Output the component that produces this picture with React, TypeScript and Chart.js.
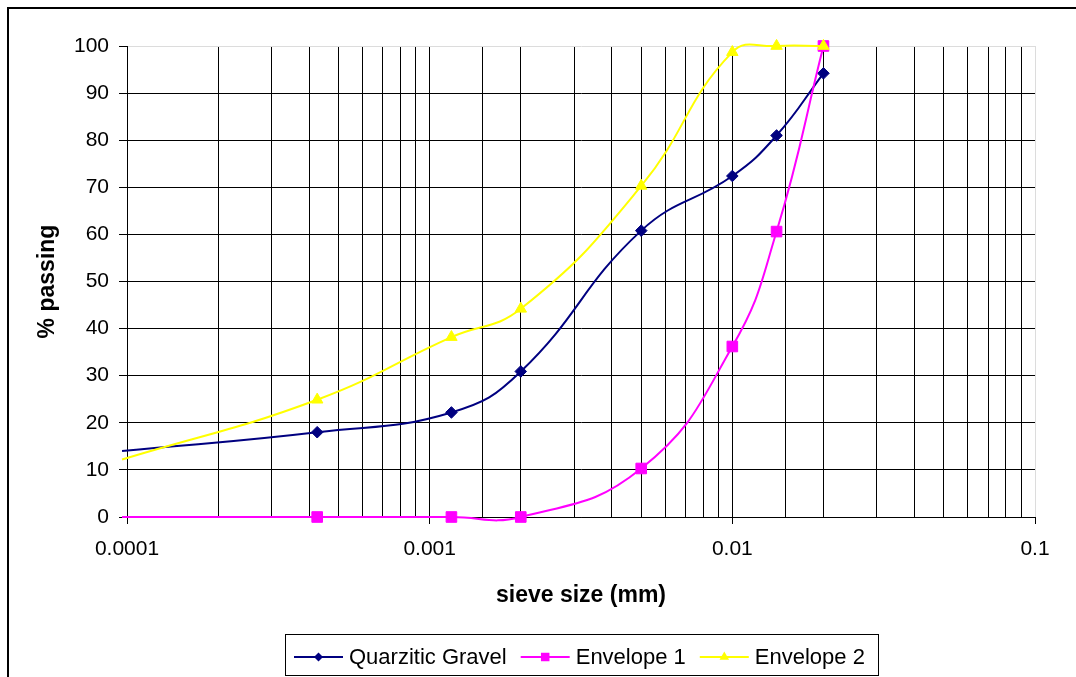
import React, { useEffect, useRef } from 'react';
import { Chart, registerables } from 'chart.js';

Chart.register(...registerables);

// ---- data ----
const sieveSizes = [0.0000963, 0.000425, 0.00118, 0.002, 0.005, 0.01, 0.014, 0.02];
const quarziticGravel = [14, 18, 22.2, 30.9, 60.8, 72.4, 81, 94.2];
const envelope1 = [0, 0, 0, 0, 10.3, 36.2, 60.6, 100];
const envelope2 = [12.2, 24.9, 38.2, 44.2, 70.3, 98.7, 100, 100];
const seriesNames = ['Quarzitic Gravel', 'Envelope 1', 'Envelope 2'];
const xDecadeLabels = ['0.0001', '0.001', '0.01', '0.1'];
const xTitle = 'sieve size (mm)';
const yTitle = '% passing';

const FONT = '"Liberation Sans", Arial, Helvetica, sans-serif';

const isDecade = (v: number) => Math.abs(Math.log10(v) - Math.round(Math.log10(v))) < 1e-6;

function toPoints(values: number[]) {
  return sieveSizes.map((x, i) => ({ x, y: values[i] }));
}

function drawMarker(ctx: CanvasRenderingContext2D, style: string, x: number, y: number, r: number) {
  ctx.beginPath();
  if (style === 'rectRot') {
    ctx.moveTo(x - r, y);
    ctx.lineTo(x, y - r);
    ctx.lineTo(x + r, y);
    ctx.lineTo(x, y + r);
  } else if (style === 'rect') {
    const s = r * Math.SQRT1_2;
    ctx.rect(x - s, y - s, 2 * s, 2 * s);
  } else {
    ctx.moveTo(x, y - r);
    ctx.lineTo(x + r * Math.sin((2 * Math.PI) / 3), y - r * Math.cos((2 * Math.PI) / 3));
    ctx.lineTo(x + r * Math.sin((4 * Math.PI) / 3), y - r * Math.cos((4 * Math.PI) / 3));
  }
  ctx.closePath();
  ctx.fill();
}

const frameAndLegend = {
  id: 'frameAndLegend',
  afterDraw(chart: any) {
    const ctx: CanvasRenderingContext2D = chart.ctx;
    ctx.save();
    // outer chart border (top & left visible)
    ctx.fillStyle = '#000';
    ctx.fillRect(7, 7, 1069, 2);
    ctx.fillRect(7, 7, 2, 670);

    // legend box
    ctx.strokeStyle = '#000';
    ctx.lineWidth = 1;
    ctx.strokeRect(285.5, 634.5, 593, 41);

    ctx.font = `22px ${FONT}`;
    ctx.textBaseline = 'alphabetic';
    ctx.textAlign = 'left';
    const lineY = 657;
    let x = 294;
    const sizes: Record<string, number> = { rectRot: 4.5, rect: 6, triangle: 5.5 };
    chart.data.datasets.forEach((ds: any) => {
      ctx.strokeStyle = ds.borderColor;
      ctx.lineWidth = 2;
      ctx.beginPath();
      ctx.moveTo(x, lineY);
      ctx.lineTo(x + 49, lineY);
      ctx.stroke();
      ctx.fillStyle = ds.backgroundColor;
      drawMarker(ctx, ds.pointStyle, x + 24.5, lineY, sizes[ds.pointStyle]);
      ctx.fillStyle = '#000';
      ctx.fillText(ds.label, x + 55, 664);
      x += 55 + ctx.measureText(ds.label).width + 14;
    });
    ctx.restore();
  },
};

export default function App() {
  const ref = useRef<HTMLCanvasElement | null>(null);

  useEffect(() => {
    document.body.style.margin = '0';
    if (!ref.current) return;
    Chart.defaults.font.family = FONT;
    Chart.defaults.color = '#000';

    const mk = (label: string, values: number[], color: string, style: string, radius: number, order: number) => ({
      label,
      data: toPoints(values),
      borderColor: color,
      backgroundColor: color,
      pointBackgroundColor: color,
      pointBorderColor: color,
      pointBorderWidth: 1,
      pointStyle: style,
      pointRadius: values.map((_, i) => (i === 0 ? 0 : radius)),
      borderWidth: 2,
      tension: 0.45,
      cubicInterpolationMode: 'default',
      capBezierPoints: false,
      clip: false,
      order,
    });

    const chart = new Chart(ref.current, {
      type: 'line',
      data: {
        datasets: [
          mk(seriesNames[0], quarziticGravel, '#000080', 'rectRot', 5.8, 3),
          mk(seriesNames[1], envelope1, '#FF00FF', 'rect', 7.5, 2),
          mk(seriesNames[2], envelope2, '#FFFF00', 'triangle', 6.6, 1),
        ] as any,
      },
      options: {
        animation: false,
        responsive: false,
        devicePixelRatio: 1,
        layout: { padding: { left: 0, right: 41, top: 46, bottom: 0 } },
        plugins: {
          legend: { display: false },
          tooltip: { enabled: false },
        },
        scales: {
          x: {
            type: 'logarithmic',
            position: 'bottom',
            min: 0.0001,
            max: 0.1,
            afterFit: (s: any) => {
              s.height = 160;
            },
            border: { color: '#000', width: 1 },
            grid: {
              lineWidth: 1,
              color: (c: any) => (c.tick && Math.abs(c.tick.value - 0.1) < 1e-9 ? '#dcdcdc' : '#000'),
              tickColor: (c: any) => (c.tick && isDecade(c.tick.value) ? '#000' : 'rgba(0,0,0,0)'),
              tickLength: 7,
            },
            ticks: {
              autoSkip: false,
              maxRotation: 0,
              padding: 13,
              font: { size: 21 },
              color: '#000',
              callback: (v: any) => {
                const n = Number(v);
                if (!isDecade(n)) return '';
                const idx = Math.round(Math.log10(n)) + 4;
                return xDecadeLabels[idx] ?? '';
              },
            },
            title: {
              display: true,
              text: xTitle,
              font: { size: 23, weight: 'bold' },
              color: '#000',
              padding: { top: 0, bottom: 68 },
            },
          },
          y: {
            type: 'linear',
            min: 0,
            max: 100,
            afterFit: (s: any) => {
              s.width = 127;
            },
            border: { color: '#000', width: 1 },
            grid: {
              lineWidth: 1,
              color: (c: any) => (c.tick && c.tick.value === 100 ? '#dcdcdc' : '#000'),
              tickColor: '#000',
              tickLength: 8,
            },
            ticks: {
              stepSize: 10,
              padding: 10,
              font: { size: 21 },
              color: '#000',
            },
            title: {
              display: true,
              text: yTitle,
              font: { size: 23, weight: 'bold' },
              color: '#000',
              padding: { top: 34, bottom: 0 },
            },
          },
        },
      } as any,
      plugins: [frameAndLegend],
    });

    return () => chart.destroy();
  }, []);

  return (
    <div style={{ width: 1076, height: 677, position: 'relative', background: '#fff' }}>
      <canvas ref={ref} width={1076} height={677} style={{ display: 'block', width: 1076, height: 677 }} />
    </div>
  );
}
